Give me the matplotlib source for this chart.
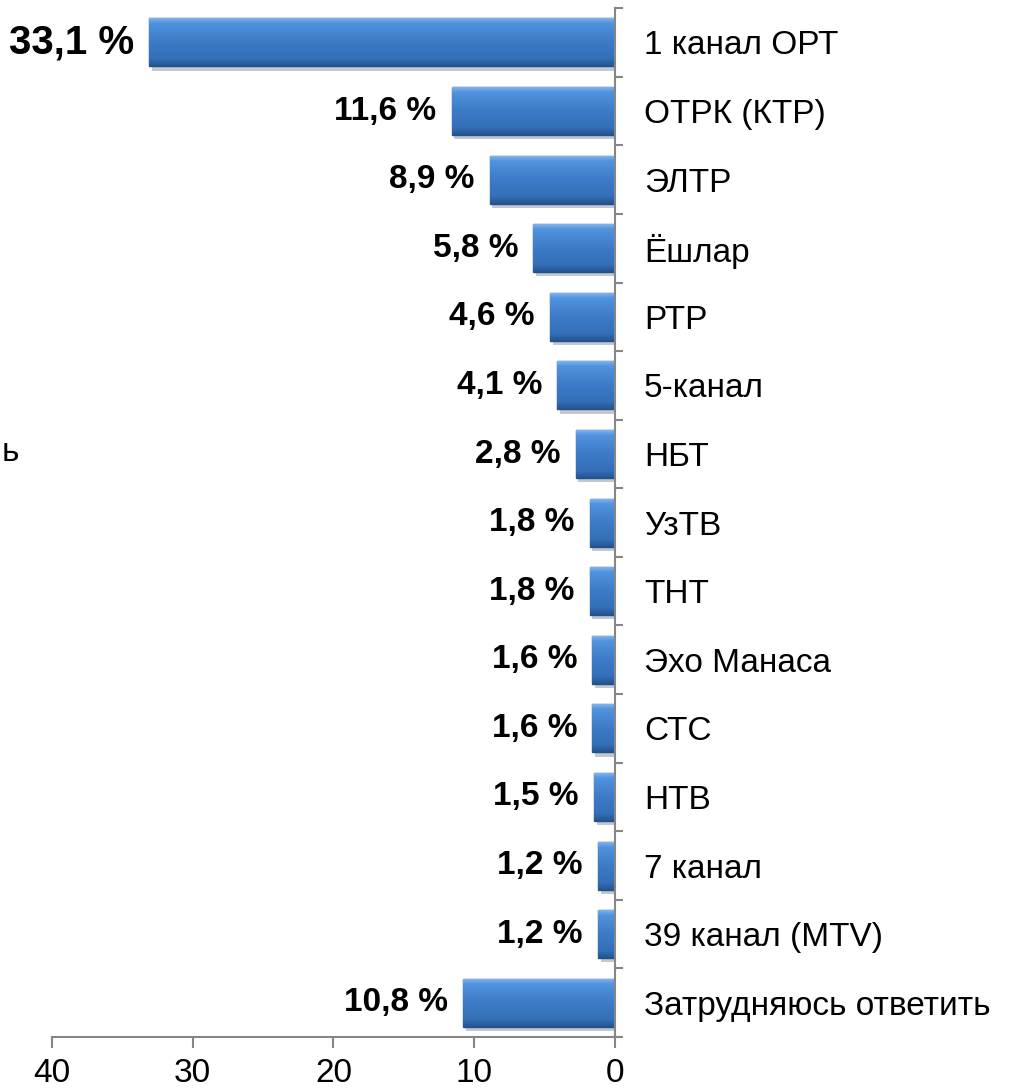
import numpy as np
import matplotlib.pyplot as plt
import matplotlib.patheffects as pe
from matplotlib.colors import LinearSegmentedColormap

plt.rcParams['font.family'] = ['Liberation Sans', 'DejaVu Sans']

channels = ['1 канал ОРТ', 'ОТРК (КТР)', 'ЭЛТР', 'Ёшлар', 'РТР', '5-канал', 'НБТ',
            'УзТВ', 'ТНТ', 'Эхо Манаса', 'СТС', 'НТВ', '7 канал', '39 канал (MTV)',
            'Затрудняюсь ответить']
shares = [33.1, 11.6, 8.9, 5.8, 4.6, 4.1, 2.8, 1.8, 1.8, 1.6, 1.6, 1.5, 1.2, 1.2, 10.8]
share_labels = ['33,1 %', '11,6 %', '8,9 %', '5,8 %', '4,6 %', '4,1 %', '2,8 %', '1,8 %',
                '1,8 %', '1,6 %', '1,6 %', '1,5 %', '1,2 %', '1,2 %', '10,8 %']
x_ticks = [40, 30, 20, 10, 0]

fig = plt.figure(figsize=(10.09, 10.91), dpi=100)
ax = fig.add_axes([0.0515, 0.0495, 0.558, 0.943])

pos = np.arange(len(channels))
bars = ax.barh(pos, shares, height=0.70, color='#3D7BC8', edgecolor='#23508A',
               linewidth=1.0, zorder=2)

# vertical gradient inside each bar to fake the bevel look
grad_cmap = LinearSegmentedColormap.from_list(
    'bev', [(0, '#86B8F0'), (0.12, '#5193DD'), (0.5, '#3D7BC8'),
            (0.85, '#3470B8'), (1, '#245590')])
grad = np.linspace(0, 1, 64).reshape(-1, 1)
for b in bars:
    x0, y0 = b.get_x(), b.get_y()
    w, h = b.get_width(), b.get_height()
    im = ax.imshow(grad, cmap=grad_cmap, aspect='auto', zorder=2.5,
                   extent=[x0, x0 + w, y0 + h, y0], origin='upper')
    im.set_clip_path(b)
    b.set_path_effects([pe.SimplePatchShadow(offset=(2, -3), alpha=0.25), pe.Normal()])

for b, lab in zip(bars, share_labels):
    size = 29 if lab == '33,1 %' else 24
    ax.annotate(lab, (b.get_width(), b.get_y() + b.get_height() / 2),
                xytext=(-11, 0), textcoords='offset points', ha='right', va='center',
                fontsize=size, fontweight='bold', color='black')

ax.set_xlim(40, 0)
ax.set_ylim(len(channels) - 0.5, -0.5)

grey = '#868686'
for s in ['top', 'left']:
    ax.spines[s].set_visible(False)
ax.spines['right'].set_color(grey)
ax.spines['bottom'].set_color(grey)
ax.spines['right'].set_linewidth(1.5)
ax.spines['bottom'].set_linewidth(1.5)

ax.set_xticks(x_ticks)
ax.set_xticklabels([str(t) for t in x_ticks])
ax.tick_params(axis='x', direction='out', length=8, width=1.5, color=grey,
               labelsize=24, pad=7)

ax.yaxis.tick_right()
ax.set_yticks(np.arange(len(channels) + 1) - 0.5)
ax.set_yticklabels([])
ax.tick_params(axis='y', which='major', direction='out', length=6, width=1.5, color=grey)
ax.set_yticks(pos, minor=True)
ax.set_yticklabels(channels, minor=True)
ax.tick_params(axis='y', which='minor', length=0, labelsize=24, pad=21)

fig.text(0.002, 0.585, 'ь', fontsize=24, ha='left', va='center')

fig.savefig('out.png', dpi=100)
